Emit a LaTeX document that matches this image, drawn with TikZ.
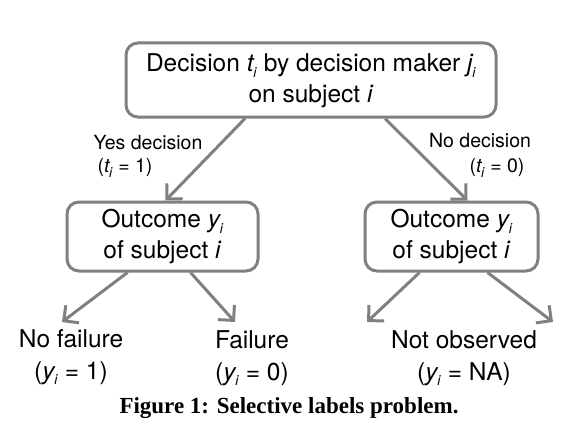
\documentclass[tikz,border=0pt]{standalone}
\usepackage{fontspec}
\setmainfont{TeX Gyre Heros}
\newfontfamily\capfont{Liberation Serif}
\usetikzlibrary{arrows.meta,calc}
\definecolor{edgegray}{HTML}{808080}
\newcommand\vsub[2]{\textit{#1}\kern-0.05em\raisebox{-0.45ex}{\fontsize{14}{14}\selectfont\textit{#2}}}
\tikzset{
  box/.style={draw=edgegray, line width=3pt, rounded corners=12pt, inner sep=0pt, align=center},
  arr/.style={draw=edgegray, line width=3pt, -{Straight Barb[length=11pt,width=22pt,line width=3pt]}},
  txt/.style={inner sep=0pt, align=center, font=\fontsize{24.5}{31}\selectfont},
  small/.style={inner sep=0pt, font=\fontsize{19.5}{22}\selectfont},
}
\begin{document}
\begin{tikzpicture}[x=1pt,y=-1pt]
\useasboundingbox (0,0) rectangle (576,444);
\node[box, minimum width=370pt, minimum height=74pt] (top) at (311,80) {};
\node[txt] (toptext) at (311,81) {Decision \vsub{t}{i} by decision maker \vsub{j}{i}\\on subject \textit{i}};
\node[box, minimum width=191pt, minimum height=69pt] (lbox) at (162.5,236.5) {};
\node[txt] (ltext) at (162.5,237) {Outcome \vsub{y}{i}\\of subject \textit{i}};
\node[box, minimum width=173pt, minimum height=69pt] (rbox) at (451.5,236.5) {};
\node[txt] (rtext) at (451.5,237) {Outcome \vsub{y}{i}\\of subject \textit{i}};
\node[small] (yes) at (148,143) {Yes decision};
\node[small] (yes2) at (125,168) {(\vsub{t}{i} = 1)};
\node[small] (no) at (480,141) {No decision};
\node[small] (no2) at (497,168) {(\vsub{t}{i} = 0)};
\draw[arr] ($(top.south)+(-66,0)$) -- ($(lbox.north)+(3,0)$);
\draw[arr] ($(top.south)+(74,0)$) -- ($(rbox.north)+(16,0)$);
\coordinate (a1) at (62,322);
\coordinate (a2) at (235,322);
\coordinate (a3) at (367,322);
\coordinate (a4) at (553,322);
\draw[arr] ($(lbox.south)+(-35,0)$) -- (a1);
\draw[arr] ($(lbox.south)+(28,0)$) -- (a2);
\draw[arr] ($(rbox.south)+(-32,0)$) -- (a3);
\draw[arr] ($(rbox.south)+(36,0)$) -- (a4);
\node[txt, font=\fontsize{24.5}{32}\selectfont] (nf) at (71,357) {No failure\\(\vsub{y}{i} = 1)};
\node[txt, font=\fontsize{24.5}{32}\selectfont] (f) at (252,358) {Failure\\(\vsub{y}{i} = 0)};
\node[txt, font=\fontsize{24.5}{32}\selectfont] (nobs) at (464,358) {Not observed\\(\vsub{y}{i} = NA)};
\node[inner sep=0pt, font=\capfont\bfseries\fontsize{23}{25}\selectfont] (cap) at (289,408) {Figure 1: Selective labels problem.};
\end{tikzpicture}
\end{document}
